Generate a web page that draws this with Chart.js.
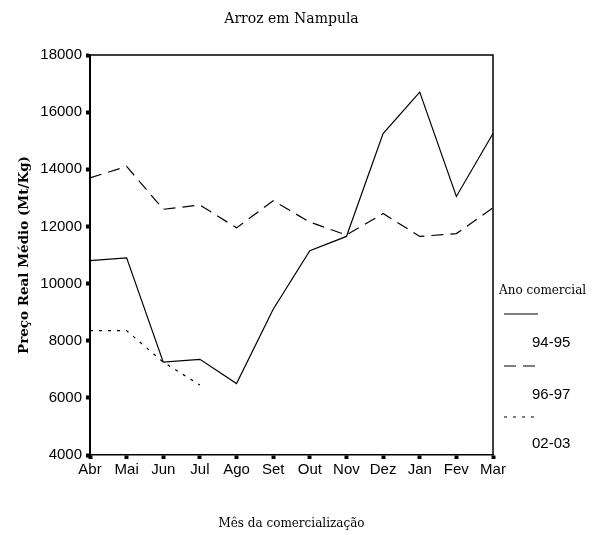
<!DOCTYPE html>
<html>
<head>
<meta charset="utf-8">
<script src="https://cdn.jsdelivr.net/npm/chart.js@4/dist/chart.umd.min.js"></script>
<style>
html,body{margin:0;padding:0;background:#fff;}
#wrap{width:600px;height:535px;}
</style>
</head>
<body>
<div id="wrap"><canvas id="c" width="600" height="535"></canvas></div>
<script>
const months = ["Abr","Mai","Jun","Jul","Ago","Set","Out","Nov","Dez","Jan","Fev","Mar"];
const s9495 = [10800,10900,7250,7350,6500,9100,11150,11650,15250,16700,13050,15250];
const s9697 = [13700,14100,12600,12750,11950,12900,12150,11700,12450,11650,11750,12650];
const s0203 = [8350,8350,7250,6450,null,null,null,null,null,null,null,null];
const seriesNames = ["94-95","96-97","02-03"];
const yTicks = [4000,6000,8000,10000,12000,14000,16000,18000];

const dashes = [[], [12,7], [3,6]];
const tickFont = { family: '"Liberation Sans"', size: 15 };

const framePlugin = {
  id: 'frame',
  afterDraw(chart) {
    const {ctx, chartArea: a} = chart;
    ctx.save();
    ctx.strokeStyle = '#000';
    ctx.lineWidth = 1.5;
    ctx.beginPath();
    ctx.moveTo(a.left, a.top);
    ctx.lineTo(a.right, a.top);
    ctx.lineTo(a.right, a.bottom);
    ctx.stroke();
    // custom legend
    ctx.fillStyle = '#000';
    ctx.textBaseline = 'middle';
    ctx.textAlign = 'left';
    ctx.font = '12px "DejaVu Serif"';
    ctx.fillText('Ano comercial', a.right + 6, 291);
    const rows = [314, 366, 417];
    const labY = [343, 395, 444];
    chart.data.datasets.forEach((ds, i) => {
      ctx.setLineDash(ds.borderDash || []);
      ctx.lineWidth = 1.2;
      ctx.beginPath();
      ctx.moveTo(a.right + 11, rows[i]);
      ctx.lineTo(a.right + 45, rows[i]);
      ctx.stroke();
      ctx.setLineDash([]);
      ctx.font = '15px "Liberation Sans"';
      ctx.fillText(ds.label, a.right + 39, labY[i]);
    });
    ctx.restore();
  }
};

new Chart(document.getElementById('c'), {
  type: 'line',
  data: {
    labels: months,
    datasets: [s9495, s9697, s0203].map((d, i) => ({
      label: seriesNames[i],
      data: d,
      borderColor: '#000',
      borderWidth: 1.2,
      borderDash: dashes[i],
      pointRadius: 0,
      fill: false,
      tension: 0,
      spanGaps: false
    }))
  },
  options: {
    responsive: false,
    animation: false,
    layout: { padding: { left: 0, right: 17, top: 0, bottom: 0 } },
    plugins: {
      legend: { display: false },
      tooltip: { enabled: false },
      title: {
        display: true,
        text: 'Arroz em Nampula',
        color: '#000',
        font: { family: '"DejaVu Serif"', size: 14, weight: 'normal' },
        padding: { top: 11, bottom: 27.2 }
      }
    },
    scales: {
      x: {
        offset: false,
        afterFit(scale) { scale.height = 80; },
        grid: { drawOnChartArea: false, drawTicks: true, tickLength: 4, tickWidth: 4, tickColor: '#000' },
        border: { color: '#000', width: 1.5 },
        ticks: { color: '#000', font: tickFont, padding: 2, maxRotation: 0, autoSkip: false },
        title: { display: true, text: 'Mês da comercialização', color: '#000',
                 font: { family: '"DejaVu Serif"', size: 12 }, padding: { top: 4, bottom: 4 } }
      },
      y: {
        min: 4000, max: 18000,
        afterFit(scale) { scale.width = 90; },
        afterBuildTicks(scale) { scale.ticks = yTicks.map(v => ({ value: v })); },
        grid: { drawOnChartArea: false, drawTicks: true, tickLength: 4, tickWidth: 4, tickColor: '#000' },
        border: { color: '#000', width: 2 },
        ticks: { color: '#000', font: tickFont, padding: 4, callback: v => String(v) },
        title: { display: true, text: 'Preço Real Médio (Mt/Kg)', color: '#000',
                 font: { family: '"DejaVu Serif"', size: 13.5, weight: 'bold' }, padding: { top: 16, bottom: 4 } }
      },
      yR: {
        position: 'right',
        display: true,
        min: 4000, max: 18000,
        afterFit(scale) { scale.width = 90; },
        grid: { display: false, drawTicks: false },
        border: { display: false },
        ticks: { display: false }
      }
    }
  },
  plugins: [framePlugin]
});
</script>
</body>
</html>
